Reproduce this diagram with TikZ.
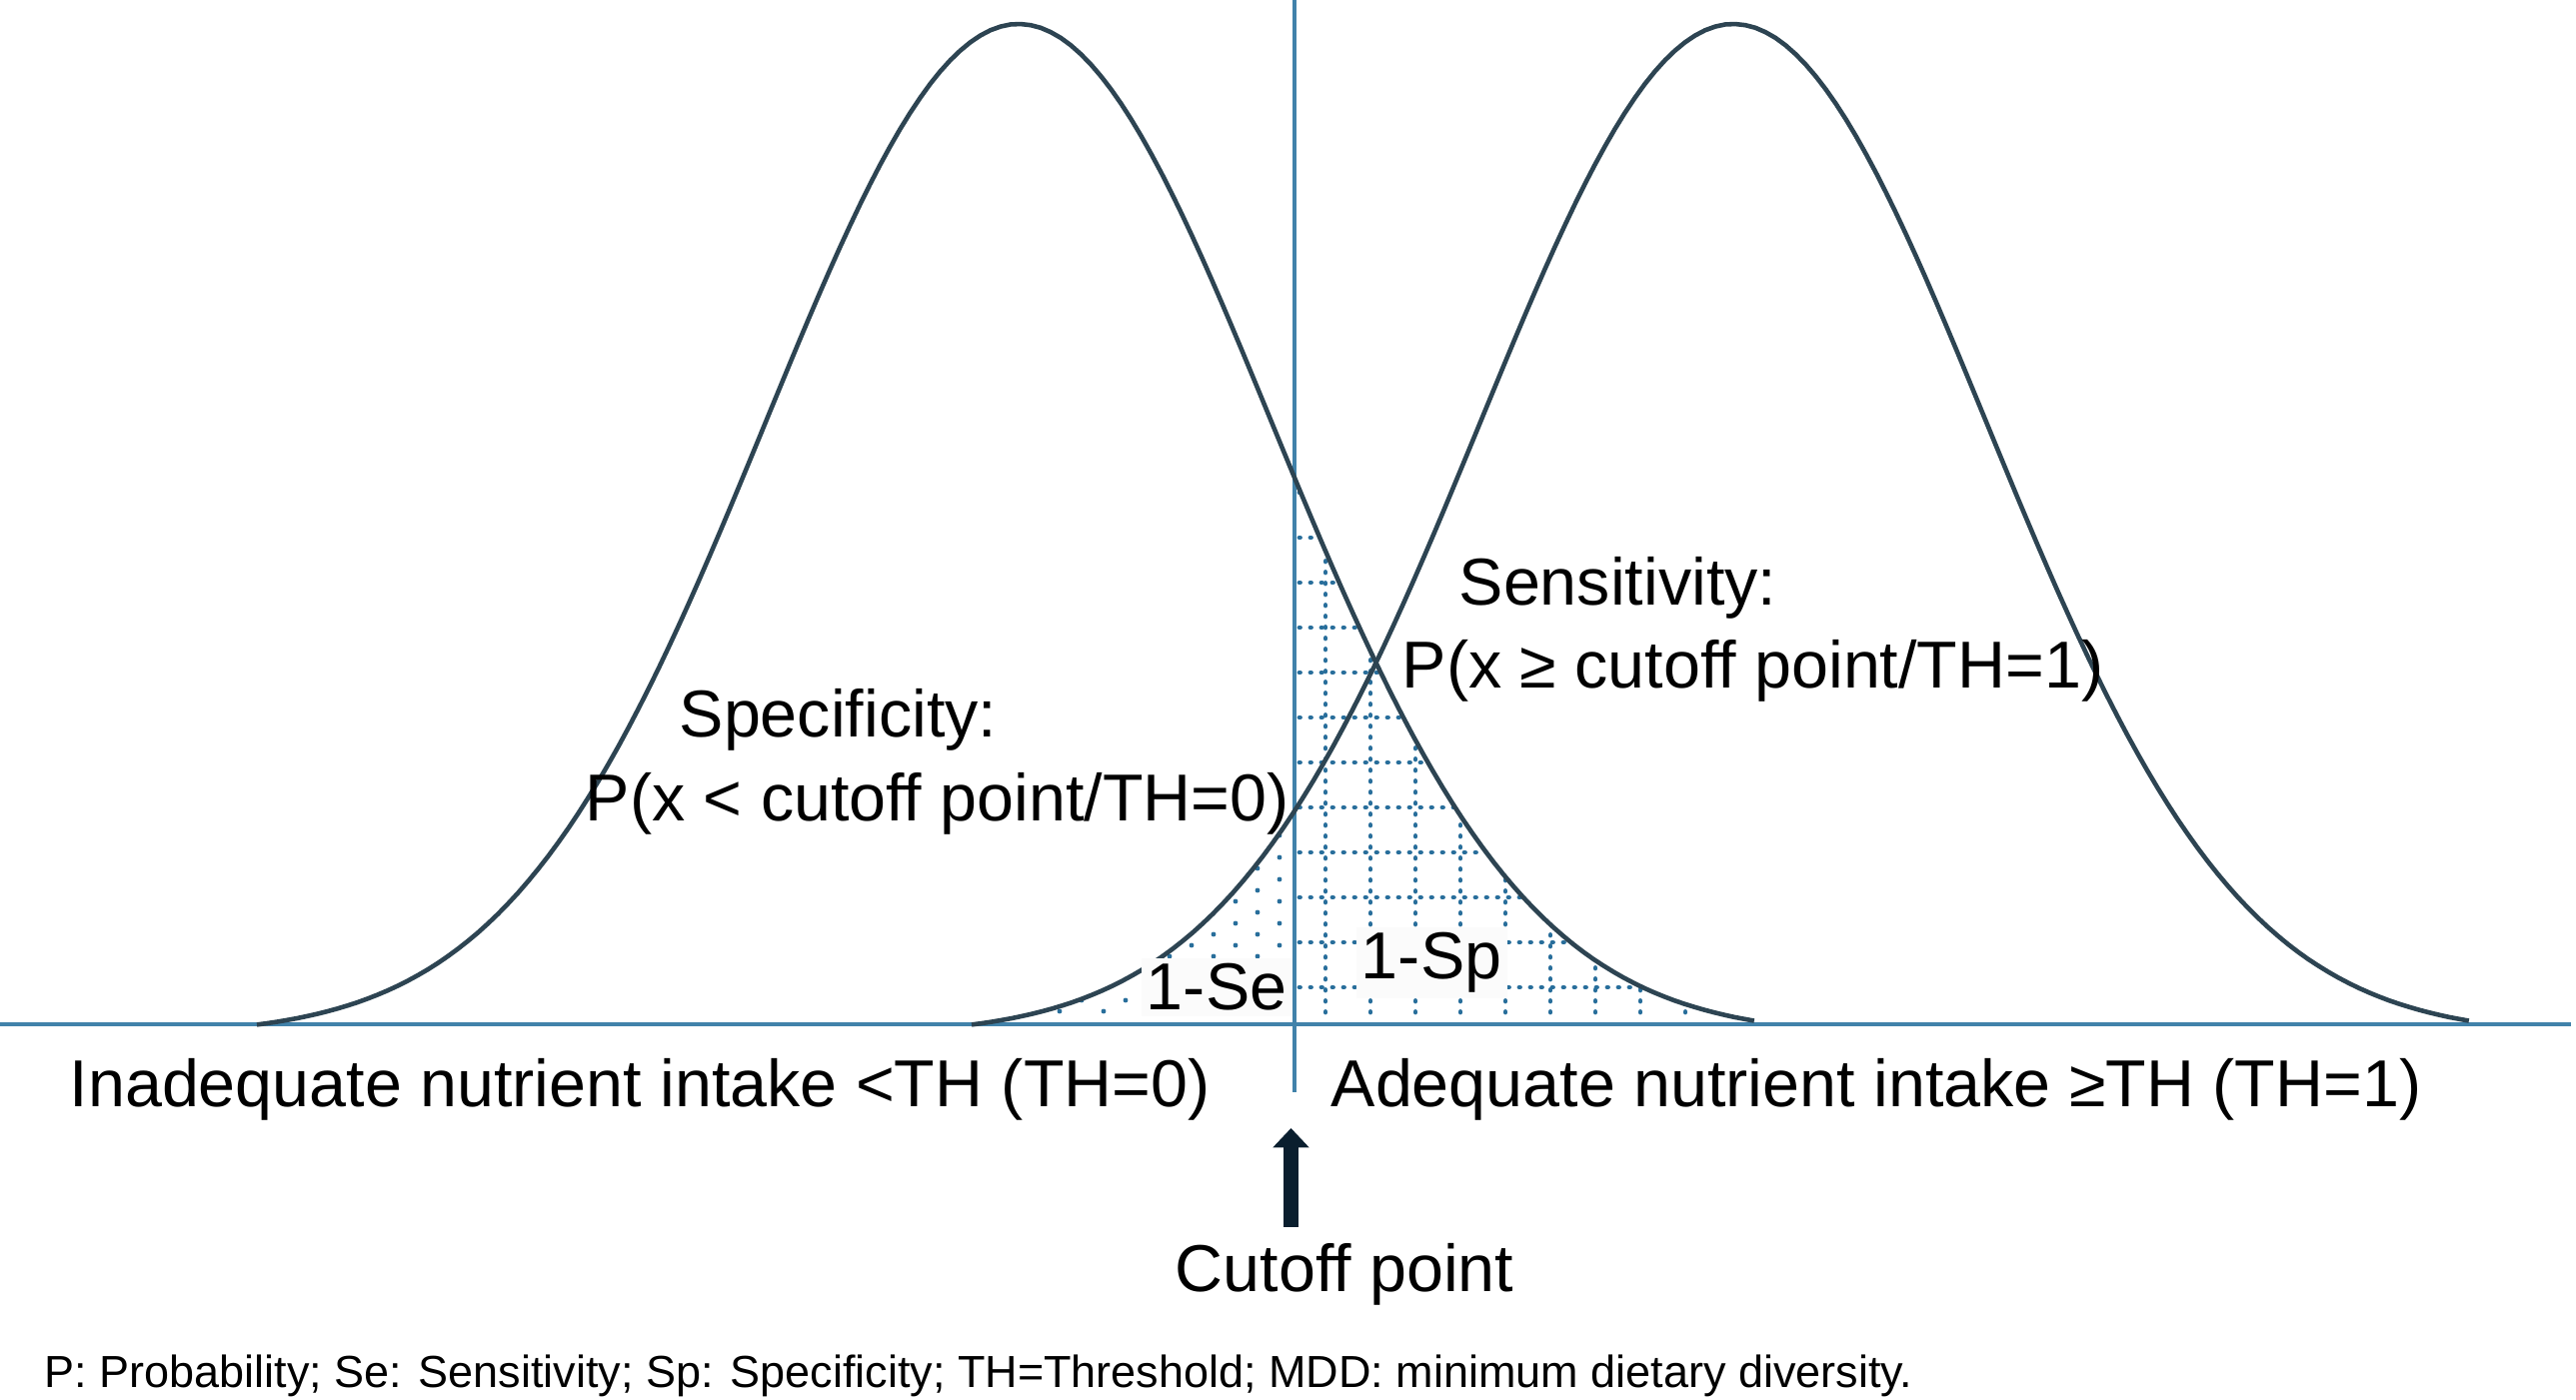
\documentclass[tikz,border=0pt]{standalone}
\usepackage{fontspec}
\setmainfont{Liberation Sans}
\usepackage{tikz}
\usetikzlibrary{arrows.meta}
\usepackage{xcolor}

\definecolor{axisblue}{RGB}{65,130,170}
\definecolor{bellgray}{RGB}{45,68,82}
\definecolor{dotblue}{RGB}{40,110,155}
\definecolor{arrownavy}{RGB}{10,30,46}

\tikzset{
  bell/.style={bellgray, line width=1.3pt},
  baseaxis/.style={axisblue, line width=1.4pt},
  txt/.style={anchor=base west, inner sep=0pt, font=\fontsize{18.9}{22}\selectfont},
  tailtxt/.style={txt, inner sep=1.5pt, fill=black!1.5},
  dotline/.style={dotblue, line width=0.048cm, line cap=round, dash pattern=on 0.005cm off 0.105cm},
}

\begin{document}
\begin{tikzpicture}
    \useasboundingbox (0,0) rectangle (25.77,14.01);
    % shaded tails
    \begin{scope}
        \clip (12.95,3.76) -- plot[domain=12.95:17.55, samples=60] (\x, {3.76+10.12*(exp(-0.5*((\x-10.19)/2.53)^2)-0.0111)}) -- (17.55,3.76) -- cycle;
        \foreach \gx in {13.26,13.71,...,17.6}
            \draw[dotline] (\gx,3.88) -- (\gx,9.6);
        \foreach \gy in {4.13,4.58,...,9.5}
            \draw[dotline] (13.0,\gy) -- (17.8,\gy);
    \end{scope}
    \begin{scope}
        \clip (9.72,3.76) -- plot[domain=9.72:12.95, samples=60] (\x, {3.76+10.12*(exp(-0.5*((\x-17.34)/2.53)^2)-0.0111)}) -- (12.95,3.76) -- cycle;
        \foreach \i in {0,...,14}
            \foreach \j in {0,...,12}
                \fill[dotblue] ({12.80-0.22*\i}, {3.89+0.22*\j+0.11*mod(\i,2)}) circle (0.024);
    \end{scope}
    % axes and curves
    \draw[baseaxis] (0,3.76) -- (25.72,3.76);
    \draw[baseaxis] (12.95,14.01) -- (12.95,3.08);
    \draw[bell] plot[domain=2.57:17.55, samples=150] (\x, {3.76+10.12*(exp(-0.5*((\x-10.19)/2.53)^2)-0.0111)});
    \draw[bell] plot[domain=9.72:24.70, samples=150] (\x, {3.76+10.12*(exp(-0.5*((\x-17.34)/2.53)^2)-0.0111)});
    % labels
    \node[txt] (spec) at (6.79,6.63) {Specificity:};
    \node[txt] (specp) at (5.85,5.79) {P(x < cutoff point/TH=0)};
    \node[txt] (sens) at (14.59,7.95) {Sensitivity:};
    \node[txt] (sensp) at (14.02,7.12) {P(x ≥ cutoff point/TH=1)};
    \node[tailtxt] (fnr) at (11.41,3.90) {1-Se};
    \node[tailtxt] (fpr) at (13.56,4.21) {1-Sp};
    \node[txt] (inad) at (0.69,2.93) {Inadequate nutrient intake <TH (TH=0)};
    \node[txt] (adeq) at (13.31,2.93) {Adequate nutrient intake ≥TH (TH=1)};
    \node[txt] (cutoff) at (11.75,1.08) {Cutoff point};
    \node[txt, font=\fontsize{12.8}{15}\selectfont] (note) at (0.44,0.12)
        {P: Probability; Se: Sensitivity; Sp: Specificity; TH=Threshold; MDD: minimum dietary diversity.};
    % cutoff arrow
    \coordinate (arrowfoot) at (12.915,1.73);
    \coordinate (arrowtip) at (12.915,2.72);
    \draw[arrownavy, line width=4.3pt, -{Triangle[width=10pt,length=5.5pt]}] (arrowfoot) -- (arrowtip);
\end{tikzpicture}
\end{document}
